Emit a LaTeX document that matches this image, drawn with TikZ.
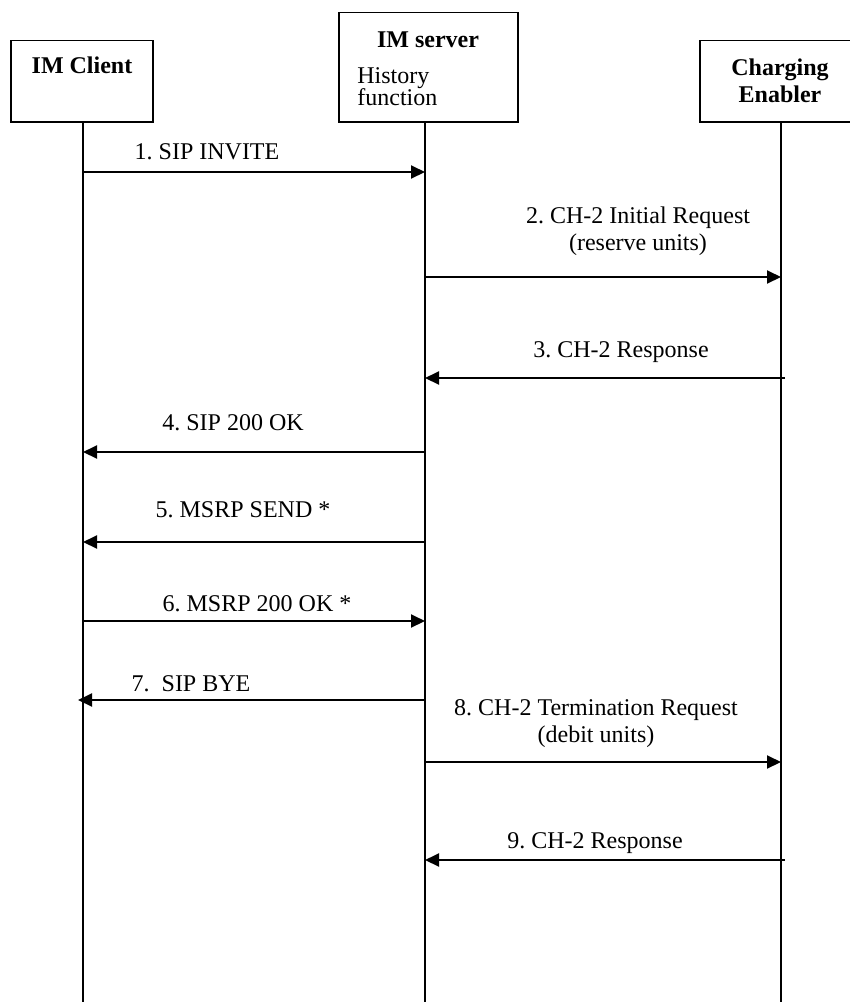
\documentclass[tikz,border=0pt]{standalone}
\usepackage{fontspec}
\setmainfont{Liberation Serif}
\usetikzlibrary{arrows.meta,positioning}
\frenchspacing

\begin{document}
\begin{tikzpicture}[x=0.5pt, y=-0.5pt, >={Triangle[length=7pt,width=6.5pt]}, font=\fontsize{12}{13.5}\selectfont]
            \tikzstyle{box} = [draw, rectangle, line width=0.75pt, anchor=south, inner sep=0pt, font=\fontsize{12}{13.5}\selectfont\bfseries]
            \tikzstyle{life} = [line width=0.75pt]
            \tikzstyle{msg} = [->, line width=1pt]
            \tikzstyle{lbl} = [anchor=base, inner sep=0pt, align=center]

            \useasboundingbox (0,0) rectangle (850,1002);
            \clip (0,0) rectangle (850,1002);

            \node [box, minimum width=71pt, minimum height=40.75pt, text depth=15.8pt] (client) at (82,122.5) {IM Client};
            \node [box, minimum width=89.5pt, minimum height=54.75pt] (server) at (428.5,122.5) {};
            \node [anchor=base, inner sep=0pt, font=\fontsize{12}{13.5}\selectfont\bfseries] (srvName) at (428,47) {IM server};
            \node [anchor=base west, inner sep=0pt] (srvHist) at (357,83) {History};
            \node [anchor=base west, inner sep=0pt] (srvFunc) at (357,105) {function};
            \node [box, minimum width=80pt, minimum height=40.75pt, align=center] (charging) at (780,122.5) {Charging\\Enabler};

            % points on the lifelines, one row per message
            \foreach \n/\y in {0/122.5, 1/172, 2/277, 3/378, 4/452, 5/542, 6/621, 7/700, 8/762, 9/860, 10/1002} {
                \coordinate (cl\n) at (83,\y);
                \coordinate (sv\n) at (425,\y);
                \coordinate (ce\n) at (781,\y);
            }

            \draw[life] (cl0) -- (cl10);
            \draw[life] (sv0) -- (sv10);
            \draw[life] (ce0) -- (ce10);

            \draw[msg] (cl1) -- (sv1);
            \draw[msg] (sv2) -- (ce2);
            \draw[msg, shorten <=-2pt] (ce3) -- (sv3);
            \draw[msg] (sv4) -- (cl4);
            \draw[msg] (sv5) -- (cl5);
            \draw[msg] (cl6) -- (sv6);
            \draw[msg, shorten >=-2.5pt] (sv7) -- (cl7);
            \draw[msg] (sv8) -- (ce8);
            \draw[msg, shorten <=-2pt] (ce9) -- (sv9);

            % labels: base sits on the last line
            \node[lbl] (m1) at (207,159) {1. SIP INVITE};
            \node[lbl] (m2) at (638,250) {2. CH-2 Initial Request\\(reserve units)};
            \node[lbl] (m3) at (621,357) {3. CH-2 Response};
            \node[lbl] (m4) at (233,430) {4. SIP 200 OK};
            \node[lbl] (m5) at (243,517) {5. MSRP SEND *};
            \node[lbl] (m6) at (257,611) {6. MSRP 200 OK *};
            \node[lbl] (m7) at (191,691) {7.\ \ SIP BYE};
            \node[lbl] (m8) at (596,742) {8. CH-2 Termination Request\\(debit units)};
            \node[lbl] (m9) at (595,848) {9. CH-2 Response};
\end{tikzpicture}
\end{document}
